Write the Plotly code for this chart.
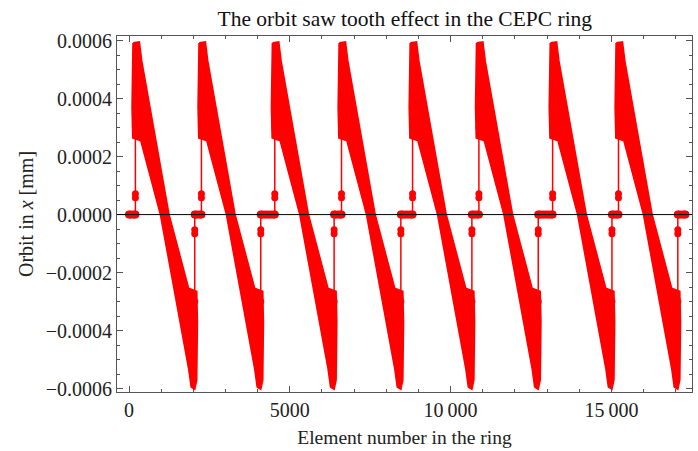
import plotly.graph_objects as go

# ---- data ----
rise_x = [199, 2252, 4533, 6608, 8817, 10880, 13172, 15220]   # element where each arc (tooth) starts
arc_len = 1845                                                  # elements per arc
start_x = 0
end_x = 17300

# outer outline of one tooth: element offset from its rise, orbit value
env_off = [-68, 118, 190, 1040, 1650, 1900, 1922, 1900, 1840, 1740, 1660, 784, 174, -76, -98, -68]
env_val = [0.000592, 0.000595, 0.000530, 0.0, -0.000255, -0.000265, -0.000370, -0.000570,
           -0.000601, -0.000594, -0.000530, 0.0, 0.000255, 0.000265, 0.000370, 0.000592]

up_levels = [0.0, 0.000058, 0.000072, 0.00030]        # points climbing into an arc
down_levels = [-0.00030, -0.000066, -0.000052, 0.0]   # points leaving an arc

y_tick_vals = [-0.0006, -0.0004, -0.0002, 0.0, 0.0002, 0.0004, 0.0006]
y_tick_text = ["\u22120.0006", "\u22120.0004", "\u22120.0002", "0.0000", "0.0002", "0.0004", "0.0006"]
x_tick_vals = [0, 5000, 10000, 15000]
x_tick_text = ["0", "5000", "10\u2009000", "15\u2009000"]

RED = "#ff0000"
FONT = "Liberation Serif"

# ---- build traces ----
band_x, band_y = [], []
for r in rise_x:
    band_x += [r + o for o in env_off] + [None]
    band_y += list(env_val) + [None]

drop_x = [r + arc_len for r in rise_x]

jx, jy = [], []      # thin connecting lines + blob markers
fx, fy = [], []      # flat segments at zero
lefts = [start_x] + drop_x
rights = rise_x + [end_x]
for i, (a, b) in enumerate(zip(lefts, rights)):
    if i > 0:
        jx += [a] * len(down_levels)
        jy += down_levels
    else:
        jx += [a]
        jy += [0.0]
    if i < len(rise_x):
        jx += [b] * len(up_levels)
        jy += up_levels
    else:
        jx += [b]
        jy += [0.0]
    jx += [None]
    jy += [None]
    fx += [a, b, None]
    fy += [0.0, 0.0, None]

fig = go.Figure()
fig.add_trace(go.Scatter(x=band_x, y=band_y, mode="lines", fill="toself",
                         fillcolor=RED, line=dict(color=RED, width=2),
                         hoverinfo="skip", showlegend=False))
fig.add_trace(go.Scatter(x=fx, y=fy, mode="lines+markers",
                         line=dict(color=RED, width=8),
                         marker=dict(color=RED, size=8),
                         showlegend=False))
fig.add_trace(go.Scatter(x=jx, y=jy, mode="lines+markers",
                         line=dict(color=RED, width=1.5),
                         marker=dict(color=RED, size=7),
                         showlegend=False))

fig.add_shape(type="line", xref="paper", yref="y", x0=0, x1=1, y0=0, y1=0,
              line=dict(color="black", width=1), layer="above")

axis_common = dict(showline=True, linecolor="#555555", linewidth=1, mirror="allticks",
                   ticks="inside", ticklen=6, tickcolor="#555555", tickwidth=1,
                   showgrid=False, zeroline=False,
                   tickfont=dict(family=FONT, size=20, color="#222222"))

fig.update_xaxes(range=[-373, 17506], tickvals=x_tick_vals, ticktext=x_tick_text,
                 minor=dict(dtick=1000, tick0=0, ticks="inside", ticklen=3,
                            tickcolor="#555555"),
                 title=dict(text="Element number in the ring",
                            font=dict(family=FONT, size=19.5, color="#222222"), standoff=10),
                 **axis_common)
fig.update_yaxes(range=[-0.000612, 0.000616], tickvals=y_tick_vals, ticktext=y_tick_text,
                 minor=dict(dtick=0.00005, tick0=0, ticks="inside", ticklen=3,
                            tickcolor="#555555"),
                 title=dict(text="Orbit in <i>x</i> [mm]",
                            font=dict(family=FONT, size=20, color="#222222"), standoff=6),
                 **axis_common)

fig.update_layout(
    width=698, height=451,
    margin=dict(l=117, r=6, t=36, b=59),
    paper_bgcolor="white", plot_bgcolor="white",
    title=dict(text="The orbit saw tooth effect in the CEPC ring",
               font=dict(family=FONT, size=21.5, color="#111111"),
               x=0.58, xanchor="center", y=0.96, yanchor="middle"),
    showlegend=False,
)

fig.write_html("out.html")
